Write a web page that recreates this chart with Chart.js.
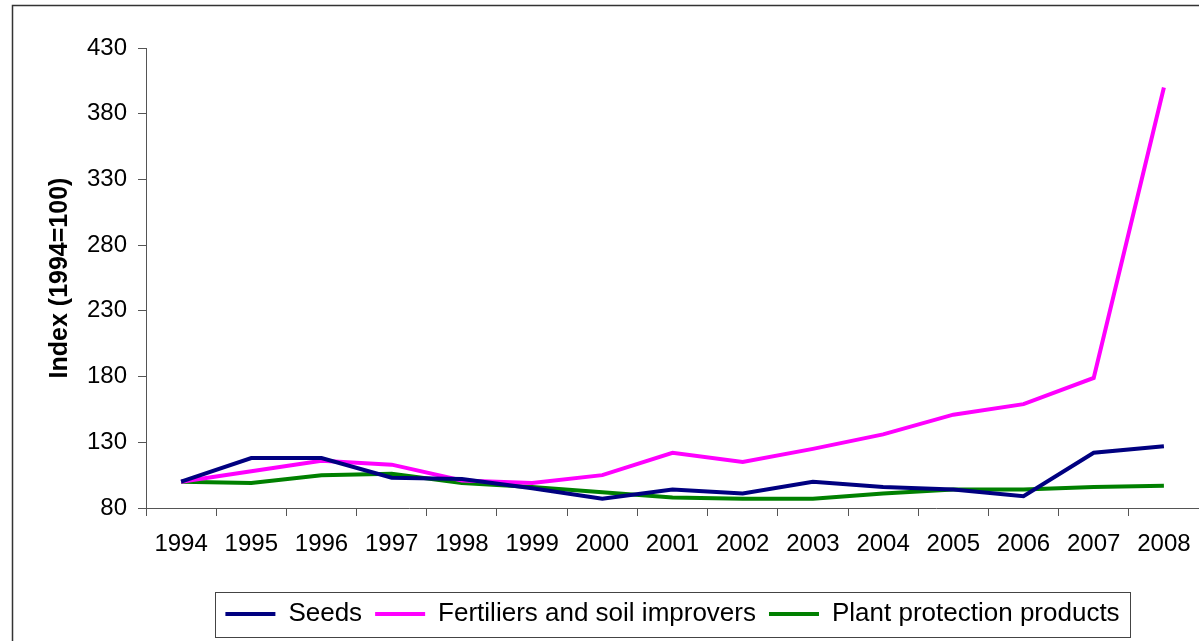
<!DOCTYPE html>
<html>
<head>
<meta charset="utf-8">
<script src="https://cdn.jsdelivr.net/npm/chart.js@4"></script>
<style>
  html, body { margin: 0; padding: 0; background: #fff; }
  #wrap { width: 1199px; height: 641px; position: relative; }
</style>
</head>
<body>
<div id="wrap"><canvas id="chart"></canvas></div>
<script>
const years = ["1994", "1995", "1996", "1997", "1998", "1999", "2000", "2001", "2002", "2003", "2004", "2005", "2006", "2007", "2008"];
const seeds = [100, 118, 118, 103, 102, 95, 87, 94, 91, 100, 96, 94, 89, 122, 127];
const fertilisers = [100, 108, 116, 113, 101, 99, 105, 122, 115, 125, 136, 151, 159, 179, 400];
const plantProtection = [100, 99, 105, 106, 99, 96, 92, 88, 87, 87, 91, 94, 94, 96, 97];
const yTicks = [80, 130, 180, 230, 280, 330, 380, 430];

const FONT = "'Liberation Sans', Arial, sans-serif";
const AXIS = "#555";

// outer frame + box round the legend
const frame = {
  id: "frame",
  beforeDraw(chart) {
    const c = chart.ctx;
    c.save();
    c.strokeStyle = "#333";
    c.lineWidth = 1.5;
    c.beginPath();
    c.moveTo(12.5, chart.height);
    c.lineTo(12.5, 5.5);
    c.lineTo(chart.width, 5.5);
    c.stroke();
    const boxes = chart.legend.legendHitBoxes;
    if (boxes && boxes.length) {
      const first = boxes[0];
      const last = boxes[boxes.length - 1];
      const x0 = first.left - 10;
      const x1 = last.left + last.width + 11;
      const yc = first.top + first.height / 2;
      c.strokeStyle = "#444";
      c.lineWidth = 1;
      c.strokeRect(Math.round(x0) + 0.5, Math.round(yc - 22) + 0.5, Math.round(x1 - x0), 45);
    }
    c.restore();
  }
};

new Chart(document.getElementById("chart"), {
  type: "line",
  data: {
    labels: years,
    datasets: [
      { label: "Seeds", data: seeds, borderColor: "#000080", backgroundColor: "#000080", borderWidth: 4 },
      { label: "Fertiliers and soil improvers", data: fertilisers, borderColor: "#ff00ff", backgroundColor: "#ff00ff", borderWidth: 4 },
      { label: "Plant protection products", data: plantProtection, borderColor: "#008000", backgroundColor: "#008000", borderWidth: 4 }
    ]
  },
  options: {
    responsive: true,
    maintainAspectRatio: false,
    animation: false,
    elements: {
      line: { borderWidth: 4, tension: 0 },
      point: { radius: 0, hoverRadius: 0 }
    },
    layout: { padding: { top: 48, left: 14, right: -2, bottom: 4 } },
    plugins: {
      tooltip: { enabled: false },
      legend: {
        position: "bottom",
        fullSize: false,
        labels: {
          usePointStyle: true,
          pointStyle: "line",
          pointStyleWidth: 50,
          padding: 13,
          color: "#000",
          font: { family: FONT, size: 26 }
        }
      }
    },
    scales: {
      x: {
        offset: true,
        grid: { offset: true, drawOnChartArea: false, drawTicks: true, tickLength: 8, color: AXIS },
        border: { color: AXIS, width: 1 },
        ticks: { color: "#000", font: { family: FONT, size: 24 }, padding: 14, maxRotation: 0, autoSkip: false },
        afterFit(scale) {
          scale.height = 80;
          scale.paddingRight = 0; // plot runs to the right edge as in the original
        }
      },
      y: {
        min: 80,
        max: 430,
        afterBuildTicks(scale) { scale.ticks = yTicks.map(v => ({ value: v })); },
        grid: { drawOnChartArea: false, drawTicks: true, tickLength: 8, color: AXIS },
        border: { color: AXIS, width: 1 },
        ticks: { color: "#000", font: { family: FONT, size: 24 }, padding: 11 },
        title: {
          display: true,
          text: "Index (1994=100)",
          color: "#000",
          font: { family: FONT, size: 25, weight: "bold" },
          padding: { top: 31, bottom: 0 }
        },
        afterFit(scale) { scale.width = 132; }
      }
    }
  },
  plugins: [frame]
});
</script>
</body>
</html>
